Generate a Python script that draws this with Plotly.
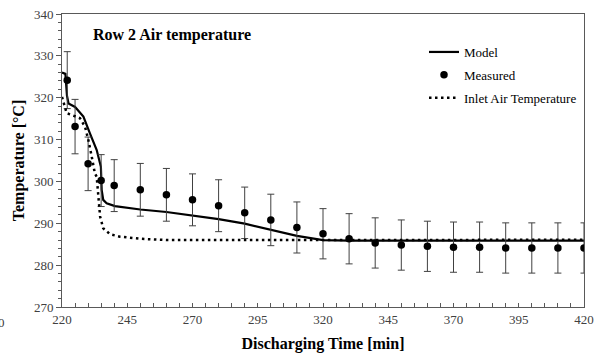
import plotly.graph_objects as go

# ---- data ----
meas_x = [222, 225, 230, 235, 240, 250, 260, 270, 280, 290, 300, 310, 320, 330, 340, 350, 360, 370, 380, 390, 400, 410, 420]
meas_y = [324.2, 313.1, 304.2, 300.2, 299.0, 298.0, 296.8, 295.6, 294.2, 292.5, 290.8, 289.0, 287.5, 286.3, 285.3, 284.8, 284.5, 284.3, 284.3, 284.1, 284.1, 284.1, 284.1]
meas_err = [6.8, 6.5, 6.4, 6.2, 6.2, 6.3, 6.3, 6.2, 6.2, 6.15, 6.15, 6.1, 6.0, 6.0, 6.0, 6.0, 6.0, 6.0, 6.0, 6.0, 6.0, 6.0, 6.0]

model_x = [220, 221.3, 221.9, 222.5, 225, 228.2, 230.7, 233.3, 234.9, 235.2, 235.8, 237.1, 240.3, 250, 260, 270, 280, 290, 300, 310, 320, 330, 345, 370, 395, 420]
model_y = [326.0, 325.7, 320.5, 318.6, 317.8, 315.5, 311.5, 307.5, 303.5, 298.0, 295.6, 294.8, 294.1, 293.3, 292.7, 291.9, 291.0, 289.9, 288.4, 287.0, 286.0, 285.85, 285.85, 285.85, 285.85, 285.85]

inlet_x = [220, 221.8, 223.7, 226.9, 228.8, 230.1, 231.4, 232.6, 233.3, 233.9, 234.6, 235.8, 238.4, 242.2, 250, 260, 300, 350, 420]
inlet_y = [320.2, 316.3, 315.9, 315.1, 313.1, 309.9, 305.9, 301.9, 301.1, 296.4, 291.6, 288.8, 287.4, 286.8, 286.3, 286.0, 286.05, 286.05, 286.05]

x_ticks = [220, 245, 270, 295, 320, 345, 370, 395, 420]
y_ticks = [270, 280, 290, 300, 310, 320, 330, 340]

FONT = "Liberation Serif"
AX = "#595959"

fig = go.Figure()
fig.add_trace(go.Scatter(
    x=model_x, y=model_y, mode="lines", name="Model",
    line=dict(color="black", width=2.2), legendgroup="a"))
fig.add_trace(go.Scatter(
    x=meas_x, y=meas_y, mode="markers", name="Measured",
    marker=dict(color="black", size=7.5),
    error_y=dict(type="data", array=meas_err, visible=True, color="#404040", thickness=1, width=3.5),
    legendgroup="b"))
fig.add_trace(go.Scatter(
    x=inlet_x, y=inlet_y, mode="lines", name="Inlet Air Temperature",
    line=dict(color="black", width=2.5, dash="2.5px,3.5px"), legendgroup="c"))

fig.update_layout(
    width=595, height=353,
    margin=dict(l=62, r=11, t=14, b=46, autoexpand=False),
    paper_bgcolor="white", plot_bgcolor="white",
    font=dict(family=FONT, color="#404040", size=13),
    showlegend=True,
    legend=dict(x=(424 - 62) / 522, y=1 - (37 - 14) / 293, xanchor="left", yanchor="top",
                font=dict(family=FONT, size=13, color="black"),
                bgcolor="rgba(0,0,0,0)", tracegroupgap=3, traceorder="grouped"),
    annotations=[
        dict(text="<b>Row 2 Air temperature</b>", xref="paper", yref="paper",
             x=(172 - 62) / 522, y=1 - (35 - 14) / 293, xanchor="center", yanchor="middle",
             showarrow=False, font=dict(family=FONT, size=16, color="black")),
        dict(text="0", xref="paper", yref="paper", x=(7 - 62) / 522, y=-(322 - 307) / 293,
             xanchor="right", yanchor="middle", showarrow=False,
             font=dict(family=FONT, size=13, color="#404040")),
    ],
)

fig.update_xaxes(
    range=[220, 420], tickvals=x_ticks, ticks="inside", ticklen=4, tickcolor=AX,
    showline=True, linecolor=AX, linewidth=1, mirror=True, showgrid=False, zeroline=False,
    automargin=False,
    minor=dict(dtick=5, tick0=220, ticks="inside", ticklen=4, tickcolor=AX),
    tickfont=dict(family=FONT, size=13, color="#404040"),
    title=dict(text="<b>Discharging Time [min]</b>", standoff=12,
               font=dict(family=FONT, size=16, color="black")),
)
fig.update_yaxes(
    range=[270, 340], tickvals=y_ticks, ticks="outside", ticklen=5, tickcolor=AX,
    showline=True, linecolor=AX, linewidth=1, mirror=True, showgrid=False, zeroline=False,
    automargin=False,
    minor=dict(dtick=2, tick0=270, ticks="outside", ticklen=3, tickcolor=AX),
    tickfont=dict(family=FONT, size=13, color="#404040"),
    title=dict(text="<b>Temperature [°C]</b>", standoff=5,
               font=dict(family=FONT, size=16, color="black")),
)

fig.write_html("out.html")
